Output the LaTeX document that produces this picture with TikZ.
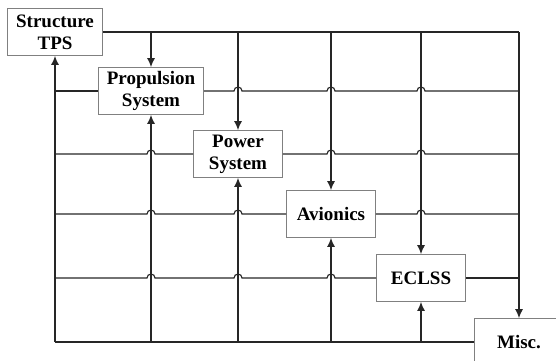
\documentclass[tikz,border=0pt]{standalone}
\usepackage{fontspec}
\setmainfont{Liberation Serif}
\usepackage{tikz}
\usetikzlibrary{positioning,arrows.meta,calc}

% small bump where a row passes over a column
\newcommand{\hopover}[2]{-- ($(#1 |- #2)+(-4pt,0)$) arc[start angle=180, end angle=0, radius=4pt]}

\begin{document}
\begin{tikzpicture}[
  x=1pt, y=1pt,
  blk/.style={draw=black!50, fill=white, line width=0.8pt, minimum width=89pt, minimum height=47pt,
    inner xsep=8.5pt, align=center, font=\bfseries\fontsize{19}{22}\selectfont},
  grid/.style={draw=black!85, line width=1.15pt},
  arr/.style={grid, -{Latex[length=9pt,width=8pt]}}
]
\clip (0,0) rectangle (556,360);

\node[blk] (str)  at (55,328)  {Structure\\TPS};
\node[blk] (prop) at (151,269) {Propulsion\\System};
\node[blk] (pow)  at (238,206) {Power\\System};
\node[blk] (avi)  at (331,146) {Avionics};
\node[blk] (ecl)  at (421,82)  {ECLSS};
\node[blk] (misc) at (519,18)  {Misc.};

% rows
\draw[grid] (str.east) -- (misc |- str);
\draw[grid] (str |- misc) -- (misc.west);
\draw[grid] (str |- prop) -- (prop.west);
\draw[grid] (prop.east) \hopover{pow}{prop} \hopover{avi}{prop} \hopover{ecl}{prop} -- (misc |- prop);
\draw[grid] (str |- pow) \hopover{prop}{pow} -- (pow.west);
\draw[grid] (pow.east) \hopover{avi}{pow} \hopover{ecl}{pow} -- (misc |- pow);
\draw[grid] (str |- avi) \hopover{prop}{avi} \hopover{pow}{avi} -- (avi.west);
\draw[grid] (avi.east) \hopover{ecl}{avi} -- (misc |- avi);
\draw[grid] (str |- ecl) \hopover{prop}{ecl} \hopover{pow}{ecl} \hopover{avi}{ecl} -- (ecl.west);
\draw[grid] (ecl.east) -- (misc |- ecl);

% columns
\draw[arr] (str |- misc) -- (str.south);
\draw[arr] (misc |- str) -- (misc.north);
\foreach \n in {prop,pow,avi,ecl} {
  \draw[arr] (\n |- str) -- (\n.north);
  \draw[arr] (\n |- misc) -- (\n.south);
}
\end{tikzpicture}
\end{document}
